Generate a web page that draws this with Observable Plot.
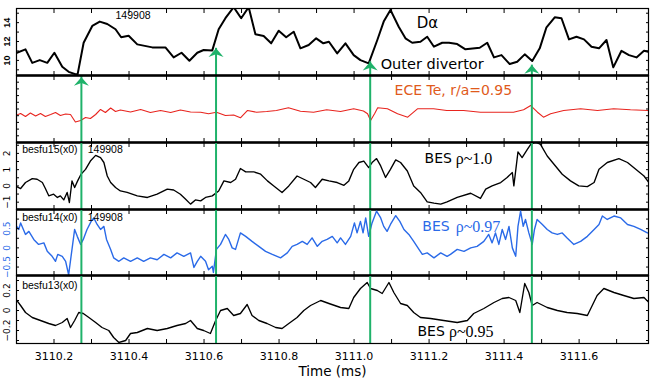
<!DOCTYPE html>
<html><head><meta charset="utf-8">
<script src="https://cdn.jsdelivr.net/npm/d3@7"></script>
<script src="https://cdn.jsdelivr.net/npm/@observablehq/plot@0.6"></script>
<style>
body{margin:0;background:#fff;}
#chart{position:relative;width:656px;height:380px;overflow:hidden;background:#fff;}
#chart svg{position:absolute;left:0;overflow:visible;background:transparent;}
</style></head><body><div id="chart"></div>
<script>
// ---------------- data ----------------
const arrowTime = [3110.273, 3110.632, 3111.043, 3111.474];
const arrowTipDa = [8.22, 11.28, 9.85, 9.50];

const daTime = [3110.097,3110.124,3110.142,3110.162,3110.182,3110.201,3110.222,3110.239,3110.257,3110.263,3110.279,3110.302,3110.322,3110.342,3110.364,3110.379,3110.399,3110.422,3110.462,3110.497,3110.519,3110.540,3110.561,3110.582,3110.599,3110.622,3110.639,3110.657,3110.679,3110.699,3110.719,3110.737,3110.759,3110.779,3110.799,3110.819,3110.839,3110.857,3110.879,3110.899,3110.918,3110.933,3110.955,3110.977,3110.999,3111.017,3111.039,3111.062,3111.079,3111.097,3111.119,3111.137,3111.155,3111.177,3111.195,3111.213,3111.235,3111.253,3111.275,3111.297,3111.335,3111.355,3111.373,3111.393,3111.415,3111.435,3111.455,3111.475,3111.495,3111.513,3111.535,3111.553,3111.573,3111.593,3111.613,3111.633,3111.653,3111.673,3111.691,3111.713,3111.733,3111.753,3111.773,3111.786];
const daValue = [10.74,11.17,9.74,10.03,9.74,10.81,9.32,8.79,8.54,8.54,11.87,13.65,14.11,13.86,13.30,12.45,12.62,11.70,11.38,11.38,10.32,10.81,9.96,10.81,11.10,11.06,13.30,14.47,15.64,14.47,15.64,12.77,12.59,11.81,13.15,12.45,13.04,11.28,11.63,12.34,11.81,11.98,10.74,11.81,10.56,10.03,9.68,12.16,14.11,15.35,13.57,12.34,11.87,11.98,12.51,11.45,11.87,11.87,11.73,11.17,11.34,11.87,10.32,10.56,9.61,9.85,10.64,9.93,11.28,13.51,14.57,14.47,12.23,12.51,12.23,11.45,11.28,12.16,9.26,11.02,10.56,10.32,11.02,10.91];

const eceTime = [3110.097,3110.111,3110.124,3110.137,3110.151,3110.164,3110.177,3110.191,3110.204,3110.217,3110.231,3110.244,3110.257,3110.271,3110.284,3110.297,3110.311,3110.324,3110.337,3110.351,3110.364,3110.377,3110.404,3110.431,3110.457,3110.484,3110.511,3110.537,3110.564,3110.591,3110.612,3110.633,3110.657,3110.679,3110.697,3110.716,3110.740,3110.767,3110.793,3110.825,3110.857,3110.892,3110.927,3110.964,3110.999,3111.025,3111.036,3111.044,3111.055,3111.063,3111.089,3111.116,3111.143,3111.169,3111.212,3111.247,3111.292,3111.337,3111.380,3111.425,3111.452,3111.471,3111.489,3111.505,3111.524,3111.559,3111.604,3111.649,3111.692,3111.737,3111.785];
const eceValue = [0.703,0.733,0.688,0.740,0.696,0.733,0.688,0.718,0.748,0.703,0.725,0.718,0.606,0.628,0.673,0.658,0.718,0.793,0.748,0.815,0.763,0.785,0.755,0.793,0.748,0.778,0.748,0.785,0.755,0.752,0.728,0.752,0.703,0.710,0.669,0.778,0.752,0.763,0.778,0.818,0.767,0.752,0.788,0.763,0.803,0.770,0.728,0.628,0.733,0.818,0.803,0.728,0.678,0.803,0.803,0.778,0.778,0.752,0.752,0.752,0.788,0.852,0.752,0.678,0.728,0.778,0.803,0.778,0.803,0.788,0.778];

const bes15Time = [3110.097,3110.111,3110.124,3110.142,3110.155,3110.169,3110.177,3110.186,3110.199,3110.209,3110.217,3110.226,3110.235,3110.241,3110.248,3110.255,3110.263,3110.272,3110.284,3110.297,3110.311,3110.324,3110.333,3110.342,3110.351,3110.364,3110.377,3110.395,3110.422,3110.449,3110.475,3110.502,3110.519,3110.537,3110.551,3110.564,3110.577,3110.591,3110.604,3110.622,3110.639,3110.653,3110.671,3110.684,3110.697,3110.711,3110.733,3110.751,3110.769,3110.786,3110.808,3110.826,3110.848,3110.866,3110.884,3110.897,3110.915,3110.933,3110.955,3110.973,3110.986,3110.999,3111.013,3111.026,3111.039,3111.048,3111.060,3111.071,3111.084,3111.097,3111.111,3111.124,3111.142,3111.159,3111.177,3111.195,3111.213,3111.231,3111.248,3111.275,3111.311,3111.337,3111.351,3111.368,3111.391,3111.408,3111.422,3111.426,3111.437,3111.448,3111.462,3111.471,3111.484,3111.497,3111.515,3111.533,3111.555,3111.577,3111.599,3111.622,3111.640,3111.653,3111.675,3111.706,3111.729,3111.751,3111.773,3111.786];
const bes15Value = [0,-0.16,0.21,0.45,0.41,0.21,-0.16,-0.61,-0.51,-0.71,-0.61,-0.86,-0.40,-1.02,0.31,-0.10,0.31,0.72,1.02,1.53,1.88,1.74,1.44,0.61,0.21,-0.10,-0.31,-0.40,-0.61,-0.71,-0.51,-0.20,-0.25,-0.51,-0.82,-1.12,-0.86,-0.92,-0.71,-0.61,-0.31,0.31,0.21,0.41,1.07,0.86,0.86,0.72,0.31,0,-0.40,0,0.61,0.41,0.21,-0.10,0.41,0.31,0.21,0.04,0.31,1.02,1.44,1.53,1.13,1.44,1.68,1.23,0.52,1.02,1.60,1.44,0.92,0,-0.40,-0.98,-1.06,-1.12,-0.98,-0.71,-0.45,-0.77,-0.20,0,0.21,0.52,0.82,0,2.09,1.74,2.25,2.56,2.70,2.56,1.84,1.33,0.72,0.31,0,-0.04,0.21,1.02,1.44,1.68,1.44,1.02,0.61,0.21];

const bes14Time = [3110.097,3110.106,3110.111,3110.124,3110.133,3110.146,3110.159,3110.173,3110.182,3110.195,3110.204,3110.210,3110.222,3110.231,3110.239,3110.249,3110.255,3110.262,3110.271,3110.278,3110.288,3110.299,3110.306,3110.315,3110.324,3110.333,3110.340,3110.351,3110.359,3110.373,3110.386,3110.404,3110.422,3110.439,3110.457,3110.475,3110.493,3110.511,3110.528,3110.546,3110.564,3110.573,3110.582,3110.591,3110.604,3110.612,3110.622,3110.625,3110.633,3110.644,3110.657,3110.666,3110.675,3110.684,3110.697,3110.711,3110.728,3110.746,3110.764,3110.782,3110.804,3110.822,3110.835,3110.848,3110.862,3110.875,3110.888,3110.902,3110.915,3110.928,3110.942,3110.955,3110.964,3110.977,3110.991,3111.001,3111.008,3111.017,3111.024,3111.031,3111.039,3111.048,3111.060,3111.071,3111.079,3111.088,3111.097,3111.111,3111.122,3111.133,3111.146,3111.159,3111.173,3111.182,3111.195,3111.213,3111.231,3111.248,3111.257,3111.275,3111.293,3111.311,3111.328,3111.346,3111.359,3111.368,3111.377,3111.386,3111.395,3111.404,3111.413,3111.422,3111.431,3111.437,3111.444,3111.451,3111.457,3111.466,3111.475,3111.481,3111.488,3111.502,3111.515,3111.528,3111.542,3111.555,3111.568,3111.586,3111.604,3111.622,3111.640,3111.653,3111.662,3111.675,3111.693,3111.711,3111.729,3111.746,3111.764,3111.782];
const bes14Value = [0.61,0.48,0.65,0.35,0.43,0.22,0.09,0.13,-0.09,-0.22,-0.35,-0.17,-0.22,-0.35,-0.70,0.04,0.48,0.30,0.09,0.22,0.48,0.69,0.78,0.61,0.48,0.56,0.22,-0.04,-0.26,-0.35,-0.26,-0.35,-0.26,-0.35,-0.26,-0.31,-0.17,-0.26,-0.13,-0.22,-0.13,-0.51,-0.35,-0.22,-0.35,-0.57,-0.48,-0.64,-0.04,0.09,0.35,0.22,0,-0.04,0.39,0.30,0.17,0.04,-0.09,-0.17,-0.26,-0.13,0.04,0.09,0.17,0.09,0.26,0.04,0.17,0.22,0.30,0.13,0.26,0.09,0.30,0.65,0.39,0.69,0.39,0.78,0.30,0.65,0.96,0.78,0.56,0.43,0.61,0.84,0.69,0.48,0.35,0.17,-0.04,-0.17,-0.13,-0.26,-0.13,-0.22,-0.17,-0.04,-0.09,0,0.04,0.17,0.35,0.13,0.39,0.09,0.48,0.22,0.56,0,-0.22,0.56,0.96,0.56,0.74,0.39,0.09,0.48,0.74,0.61,0.48,0.39,0.35,0.39,0.26,0.09,0.17,0.30,0.48,0.61,0.83,0.74,0.83,0.78,0.61,0.56,0.48,0.39];

const bes13Time = [3110.097,3110.111,3110.124,3110.142,3110.164,3110.186,3110.204,3110.222,3110.235,3110.244,3110.255,3110.266,3110.278,3110.293,3110.311,3110.328,3110.346,3110.359,3110.373,3110.391,3110.404,3110.422,3110.449,3110.475,3110.502,3110.528,3110.551,3110.564,3110.582,3110.599,3110.617,3110.631,3110.644,3110.662,3110.679,3110.697,3110.715,3110.728,3110.746,3110.768,3110.791,3110.808,3110.826,3110.848,3110.866,3110.884,3110.911,3110.933,3110.964,3110.986,3110.999,3111.017,3111.035,3111.044,3111.062,3111.075,3111.093,3111.106,3111.124,3111.142,3111.159,3111.177,3111.204,3111.239,3111.275,3111.302,3111.319,3111.346,3111.373,3111.395,3111.413,3111.431,3111.442,3111.455,3111.466,3111.475,3111.488,3111.515,3111.542,3111.568,3111.595,3111.622,3111.635,3111.648,3111.666,3111.693,3111.719,3111.746,3111.773,3111.786];
const bes13Value = [0.12,0.05,-0.02,-0.07,-0.10,-0.13,-0.15,-0.12,-0.08,-0.17,-0.10,-0.02,-0.03,-0.07,-0.12,-0.17,-0.20,-0.27,-0.32,-0.30,-0.23,-0.22,-0.18,-0.20,-0.18,-0.15,-0.13,-0.10,-0.18,-0.20,-0.23,-0.10,0,0.02,-0.05,-0.03,0.06,-0.05,-0.10,-0.13,-0.17,-0.18,-0.13,-0.07,0,0.05,0.10,0.07,0.03,0.02,0.13,0.22,0.28,0.22,0.20,0.17,0.28,0.18,0.07,0.05,-0.02,-0.07,-0.08,-0.10,-0.12,-0.10,-0.03,0.02,0.08,0.12,0.13,0.10,-0.02,0.27,0.18,0.05,0.08,0.03,0,-0.02,-0.03,-0.05,0.05,0.15,0.22,0.18,0.15,0.12,0.13,0.08];

// tick values
const xMinorTicks = [3110.2,3110.3,3110.4,3110.5,3110.6,3110.7,3110.8,3110.9,3111.0,3111.1,3111.2,3111.3,3111.4,3111.5,3111.6,3111.7];
const xLabelTicks = [3110.2,3110.4,3110.6,3110.8,3111.0,3111.2,3111.4,3111.6];
const daLabelTicks = [10,12,14];
const daMinorTicks = [9,10,11,12,13,14,15];
const eceMinorTicks = [0.4,0.5,0.6,0.7,0.8,0.9,1.0,1.1,1.2];
const bes15LabelTicks = [-1,0,1,2];
const bes15MinorTicks = [-1,-0.5,0,0.5,1,1.5,2,2.5];
const bes14LabelTicks = [-0.5,0,0.5];
const bes14MinorTicks = [-0.5,-0.25,0,0.25,0.5,0.75];
const bes13LabelTicks = [-0.2,0,0.2];
const bes13MinorTicks = [-0.3,-0.2,-0.1,0,0.1,0.2,0.3];

// ---------------- layout / style ----------------
const X_DOMAIN = [3110.1, 3111.785];
const W = 656, ML = 16, MR = 8;
const GREEN = "#1fb26a", BLUE = "#2a6ae8", RED = "#e8241e", ORANGE = "#e05a1c";
const SANS = "DejaVu Sans, Verdana, sans-serif";
const SMALL = "Liberation Sans, Arial, sans-serif";
const SERIF = "Liberation Serif, Times New Roman, serif";
const rows = (ts, vs) => ts.map((t, i) => ({t, v: vs[i]}));
const fmt = d => d < 0 ? "\u2212" + Math.abs(d) : String(d);
const arrowRows = arrowTime.map((t, i) => ({t, tip: arrowTipDa[i]}));
const arrowHead = {draw(ctx, size) {
  const r = Math.sqrt(size / Math.PI);
  ctx.moveTo(0, 0); ctx.lineTo(r, r * 1.15); ctx.lineTo(0, r * 0.78); ctx.lineTo(-r, r * 1.15); ctx.closePath();
}};

function frameMarks(o) {
  const m = [
    Plot.axisX({anchor: "top", ticks: xMinorTicks, tickSize: -4, tickFormat: () => "", label: null}),
    Plot.axisX({anchor: "bottom", ticks: xMinorTicks, tickSize: -4, tickFormat: () => "", label: null}),
    Plot.axisY({anchor: "left", ticks: o.minor, tickSize: -3, tickFormat: () => "", label: null}),
    Plot.axisY({anchor: "right", ticks: o.minor, tickSize: -3, tickFormat: () => "", label: null}),
    Plot.frame({stroke: "black", strokeWidth: 1.2})
  ];
  if (o.labels) m.push(Plot.text(o.labels, {y: d => d, text: fmt, frameAnchor: "left", dx: -9, rotate: -90,
    textAnchor: "middle", lineAnchor: "middle", fontSize: 9, fill: o.labelColor || "black",
    fontWeight: o.bold ? "bold" : "normal", fontFamily: o.bold ? SMALL : SANS}));
  if (o.thickBottom) m.push(Plot.ruleY([o.domain[0]], {stroke: "black", strokeWidth: 2.6}));
  return m;
}

function panel(o) {
  const svg = Plot.plot({
    width: W, height: o.height, marginLeft: ML, marginRight: MR, marginTop: 0, marginBottom: o.mb || 0,
    x: {domain: X_DOMAIN}, y: {domain: o.domain},
    style: {overflow: "visible", fontFamily: SANS, background: "transparent"},
    marks: o.marks.concat(frameMarks(o))
  });
  svg.style.top = o.top + "px";
  if (o.z) svg.style.zIndex = o.z;
  document.getElementById("chart").appendChild(svg);
}

const greenRules = Plot.ruleX(arrowTime, {stroke: GREEN, strokeWidth: 2});

// Panel 1: D-alpha
const daDomain = [8.4, 15.5];
panel({top: 8, height: 67, domain: daDomain, minor: daMinorTicks, labels: daLabelTicks, bold: true, thickBottom: true, z: 3,
  marks: [
    Plot.line(rows(daTime, daValue), {x: "t", y: "v", stroke: "black", strokeWidth: 2, clip: true}),
    Plot.ruleX(arrowRows, {x: "t", y1: daDomain[0], y2: "tip", stroke: GREEN, strokeWidth: 2}),
    Plot.dot(arrowRows, {x: "t", y: "tip", symbol: arrowHead, r: 7.5, fill: GREEN, stroke: "none"}),
    Plot.text(["149908"], {x: 3110.364, y: 14.76, text: d => d, textAnchor: "start", fontSize: 10.5, fontFamily: SMALL}),
    Plot.text(["D\u03b1"], {x: 3111.167, y: 13.96, text: d => d, textAnchor: "start", fontSize: 15}),
    Plot.text(["Outer divertor"], {x: 3111.071, y: 9.57, text: d => d, textAnchor: "start", fontSize: 14.5})
  ]});

// Panel 2: ECE
const eceDomain = [0.3, 1.3];
panel({top: 75, height: 67, domain: eceDomain, minor: eceMinorTicks, thickBottom: true,
  marks: [
    Plot.line(rows(eceTime, eceValue), {x: "t", y: "v", stroke: RED, strokeWidth: 1.1, clip: true}),
    greenRules,
    Plot.text(["ECE Te, r/a=0.95"], {x: 3111.108, y: 1.076, text: d => d, textAnchor: "start", fontSize: 14, fill: ORANGE})
  ]});

// Panel 3: BES rho~1.0
const bes15Domain = [-1.45, 2.67];
panel({top: 142, height: 67, domain: bes15Domain, minor: bes15MinorTicks, labels: bes15LabelTicks, thickBottom: true,
  marks: [
    Plot.line(rows(bes15Time, bes15Value), {x: "t", y: "v", stroke: "black", strokeWidth: 1.35, clip: true}),
    greenRules,
    Plot.text(["besfu15(x0)"], {x: 3110.115, y: 2.21, text: d => d, textAnchor: "start", fontSize: 10.5, fontFamily: SMALL}),
    Plot.text(["149908"], {x: 3110.290, y: 2.21, text: d => d, textAnchor: "start", fontSize: 10.5, fontFamily: SMALL}),
    Plot.text(["BES"], {x: 3111.188, y: 1.69, text: d => d, textAnchor: "start", fontSize: 14}),
    Plot.text(["\u03c1~1.0"], {x: 3111.271, y: 1.69, text: d => d, textAnchor: "start", fontSize: 16, fontFamily: SERIF})
  ]});

// Panel 4: BES rho~0.97
const bes14Domain = [-0.72, 1.0];
panel({top: 209, height: 66, domain: bes14Domain, minor: bes14MinorTicks, labels: bes14LabelTicks, labelColor: BLUE, thickBottom: true,
  marks: [
    Plot.line(rows(bes14Time, bes14Value), {x: "t", y: "v", stroke: BLUE, strokeWidth: 1.4, clip: true}),
    greenRules,
    Plot.text(["besfu14(x0)"], {x: 3110.115, y: 0.80, text: d => d, textAnchor: "start", fontSize: 10.5, fontFamily: SMALL}),
    Plot.text(["149908"], {x: 3110.290, y: 0.80, text: d => d, textAnchor: "start", fontSize: 10.5, fontFamily: SMALL}),
    Plot.text(["BES"], {x: 3111.182, y: 0.557, text: d => d, textAnchor: "start", fontSize: 14, fill: BLUE}),
    Plot.text(["\u03c1~0.97"], {x: 3111.271, y: 0.557, text: d => d, textAnchor: "start", fontSize: 16, fontFamily: SERIF, fill: BLUE})
  ]});

// Panel 5: BES rho~0.95 with time axis
const bes13Domain = [-0.33, 0.35];
panel({top: 275, height: 118, mb: 50, domain: bes13Domain, minor: bes13MinorTicks, labels: bes13LabelTicks,
  marks: [
    Plot.line(rows(bes13Time, bes13Value), {x: "t", y: "v", stroke: "black", strokeWidth: 1.35, clip: true}),
    greenRules,
    Plot.text(["besfu13(x0)"], {x: 3110.115, y: 0.25, text: d => d, textAnchor: "start", fontSize: 10.5, fontFamily: SMALL}),
    Plot.text(["BES"], {x: 3111.169, y: -0.21, text: d => d, textAnchor: "start", fontSize: 14}),
    Plot.text(["\u03c1~0.95"], {x: 3111.253, y: -0.21, text: d => d, textAnchor: "start", fontSize: 16, fontFamily: SERIF}),
    Plot.axisX({anchor: "bottom", ticks: xLabelTicks, tickSize: 0, tickPadding: 9, tickFormat: d => d.toFixed(1), fontSize: 11, label: null}),
    Plot.text(["Time (ms)"], {frameAnchor: "bottom", dy: 32, lineAnchor: "bottom", text: d => d, fontSize: 13.5})
  ]});
</script>
</body></html>
